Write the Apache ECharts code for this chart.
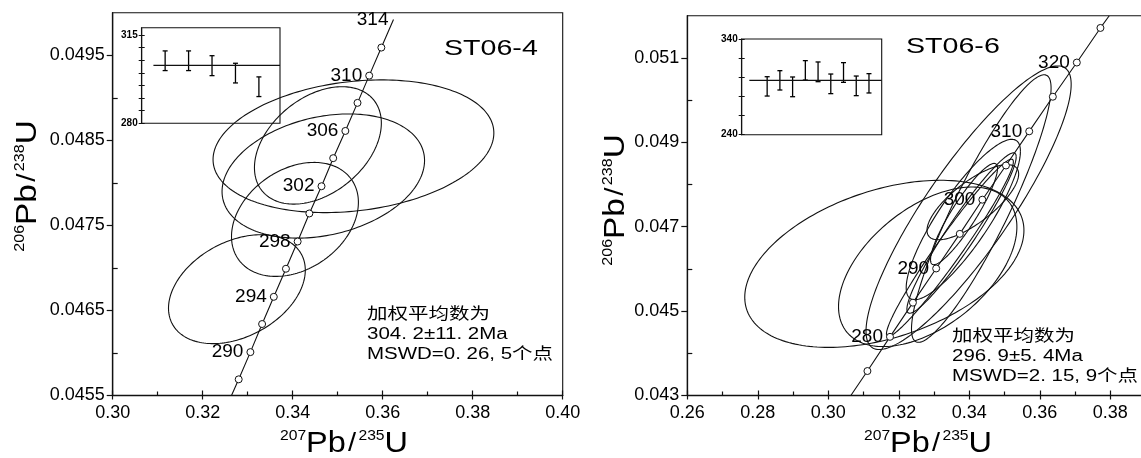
<!DOCTYPE html>
<html>
<head>
<meta charset="utf-8">
<script src="https://cdn.jsdelivr.net/npm/echarts@6/dist/echarts.min.js"></script>
<style>html,body{margin:0;padding:0;background:#fff;}#c{width:1141px;height:458px;}</style>
</head>
<body>
<div id="c"></div>
<script>
// ---------- DATA ----------
// Left panel ST06-4
const leftXTicks = [0.30, 0.32, 0.34, 0.36, 0.38, 0.40];
const leftXMinor = [0.31, 0.33, 0.35, 0.37, 0.39];
const leftYTicks = [0.0455, 0.0465, 0.0475, 0.0485, 0.0495];
const leftYMinor = [0.046, 0.047, 0.048, 0.049];
// concordia markers (age, 207Pb/235U, 206Pb/238U)
const leftAges = [288, 290, 292, 294, 296, 298, 300, 302, 304, 306, 308, 310, 312];
const leftMX = [0.3280, 0.3306, 0.3332, 0.3358, 0.3385, 0.3411, 0.3437, 0.3464, 0.3490, 0.3517, 0.3544, 0.3570, 0.3597];
const leftMY = [0.04569, 0.04601, 0.04634, 0.04666, 0.04699, 0.04731, 0.04764, 0.04796, 0.04829, 0.04861, 0.04894, 0.04926, 0.04959];
const leftCurveStart = [0.3264, 0.0455];
const leftCurveEnd = [0.3624, 0.04992];
const leftLabelAges = [290, 294, 298, 302, 306, 310];
const leftEndLabel = '314';
// error ellipses: [centre 207/235, centre 206/238, half width, half height, correlation]
const leftEllipses = [
  [0.3535, 0.04843, 0.0312, 0.00078, 0.20],
  [0.3468, 0.04808, 0.0225, 0.00073, 0.25],
  [0.3456, 0.04844, 0.0141, 0.00069, 0.38],
  [0.3405, 0.04757, 0.0141, 0.00067, 0.30],
  [0.3276, 0.04675, 0.0152, 0.00064, 0.35]
];
// inset weighted mean (ages, Ma)
const leftInsetLow  = [300.9, 300.9, 298.9, 296.0, 290.6];
const leftInsetHigh = [308.7, 308.7, 306.8, 303.8, 298.4];
const leftInsetMean = 303.0;
const leftInsetTicks = [280, 285, 290, 295, 300, 305, 310, 315];
const leftInsetLabels = [280, 315];

// Right panel ST06-6
const rightXTicks = [0.26, 0.28, 0.30, 0.32, 0.34, 0.36, 0.38, 0.40];
const rightXMinor = [0.27, 0.29, 0.31, 0.33, 0.35, 0.37, 0.39];
const rightYTicks = [0.043, 0.045, 0.047, 0.049, 0.051];
const rightYMinor = [0.044, 0.046, 0.048, 0.050];
const rightAges = [275, 280, 285, 290, 295, 300, 305, 310, 315, 320, 325];
const rightMX = [0.3111, 0.3175, 0.3240, 0.3306, 0.3373, 0.3437, 0.3504, 0.3570, 0.3637, 0.3705, 0.3772];
const rightMY = [0.04358, 0.04439, 0.04520, 0.04601, 0.04683, 0.04764, 0.04845, 0.04926, 0.05008, 0.05089, 0.05171];
const rightCurveStart = [0.3064, 0.0430];
const rightCurveEnd = [0.3797, 0.0520];
const rightLabelAges = [280, 290, 300, 310, 320];
const rightEllipses = [
  [0.3159, 0.04612, 0.0396, 0.00198, 0.40],
  [0.3282, 0.04605, 0.0253, 0.00189, 0.50],
  [0.3398, 0.04745, 0.0291, 0.00336, 0.87],
  [0.3434, 0.04743, 0.0198, 0.00317, 0.90],
  [0.3383, 0.04717, 0.0162, 0.00190, 0.85],
  [0.3410, 0.04758, 0.0130, 0.00089, 0.75],
  [0.3378, 0.04685, 0.0155, 0.00190, 0.95],
  [0.3385, 0.04730, 0.0095, 0.00120, 0.90],
  [0.3345, 0.04650, 0.0180, 0.00210, 0.97]
];
const rightInsetLow  = [280.4, 286.7, 279.7, 297.1, 295.4, 282.9, 294.7, 280.8, 283.6];
const rightInsetHigh = [300.6, 306.9, 300.3, 317.4, 316.0, 303.4, 315.3, 301.3, 303.8];
const rightInsetMean = 296.8;
const rightInsetTicks = [240, 260, 280, 300, 320, 340];
const rightInsetLabels = [240, 340];

// ---------- CHART ----------
const INK = '#000';
const FONT = '"Liberation Sans", Arial, "Noto Sans CJK SC", sans-serif';

function ellipseItem(params, api) {
  const cx = api.value(0), cy = api.value(1), a = api.value(2), b = api.value(3), r = api.value(4);
  const s = Math.sqrt(1 - r * r);
  const pts = [];
  for (let i = 0; i <= 200; i++) {
    const t = i / 200 * Math.PI * 2;
    pts.push(api.coord([cx + a * Math.cos(t), cy + b * (r * Math.cos(t) + s * Math.sin(t))]));
  }
  return { type: 'polyline', shape: { points: pts }, style: { stroke: '#111', lineWidth: 1.1, fill: null }, silent: true };
}
function errBarItem(params, api) {
  const p1 = api.coord([api.value(0), api.value(1)]);
  const p2 = api.coord([api.value(0), api.value(2)]);
  const w = 2.5;
  const st = { stroke: INK, lineWidth: 1.3 };
  return { type: 'group', children: [
    { type: 'line', shape: { x1: p1[0], y1: p1[1], x2: p2[0], y2: p2[1] }, style: st },
    { type: 'line', shape: { x1: p1[0] - w, y1: p1[1], x2: p1[0] + w, y2: p1[1] }, style: st },
    { type: 'line', shape: { x1: p2[0] - w, y1: p2[1], x2: p2[0] + w, y2: p2[1] }, style: st }
  ]};
}

const grids = [
  { left: 112.7, top: 12.7, width: 450, height: 382.8 },
  { left: 687.3, top: 15.7, width: 493.5, height: 379.8 },
  { left: 141.7, top: 27.7, width: 138.3, height: 95.6 },
  { left: 741.7, top: 39, width: 140, height: 95.7 }
].map(g => Object.assign({ show: true, borderColor: '#111', borderWidth: 1.1, backgroundColor: 'transparent', containLabel: false, outerBoundsMode: 'none' }, g));

function mainX(grid, min, max, ticks, minor) {
  const base = { type: 'value', gridIndex: grid, min: min, max: max, position: 'bottom', splitLine: { show: false } };
  return [
    Object.assign({}, base, {
      axisLine: { show: true, lineStyle: { color: '#111', width: 1.3 } },
      axisTick: { show: true, inside: true, length: 5, customValues: ticks, lineStyle: { color: '#111', width: 1.2 } },
      axisLabel: { show: true, customValues: ticks, formatter: v => v.toFixed(2), fontSize: 18, fontFamily: FONT, color: INK, margin: 9 }
    }),
    Object.assign({}, base, {
      axisLine: { show: false },
      axisTick: { show: true, inside: false, length: 4, customValues: ticks, lineStyle: { color: '#111', width: 1.2 } },
      axisLabel: { show: false }
    }),
    Object.assign({}, base, {
      axisLine: { show: false },
      axisTick: { show: true, inside: true, length: 4, customValues: minor, lineStyle: { color: '#111', width: 1.2 } },
      axisLabel: { show: false }
    })
  ];
}
function mainY(grid, min, max, ticks, minor, digits) {
  const base = { type: 'value', gridIndex: grid, min: min, max: max, position: 'left', splitLine: { show: false } };
  return [
    Object.assign({}, base, {
      axisLine: { show: true, lineStyle: { color: '#111', width: 1.3 } },
      axisTick: { show: true, inside: false, length: 6, customValues: ticks, lineStyle: { color: '#111', width: 1.2 } },
      axisLabel: { show: true, customValues: ticks, formatter: v => v.toFixed(digits), fontSize: 18, fontFamily: FONT, color: INK, margin: 8 }
    }),
    Object.assign({}, base, {
      axisLine: { show: false },
      axisTick: { show: true, inside: true, length: 5, customValues: minor, lineStyle: { color: '#111', width: 1.2 } },
      axisLabel: { show: false }
    })
  ];
}
function insetY(grid, min, max, ticks, labels) {
  const base = { type: 'value', gridIndex: grid, min: min, max: max, position: 'left', splitLine: { show: false } };
  return [
    Object.assign({}, base, {
      axisLine: { show: true, lineStyle: { color: '#111', width: 1.1 } },
      axisTick: { show: true, inside: false, length: 3, customValues: ticks, lineStyle: { color: '#111', width: 1 } },
      axisLabel: { show: true, customValues: labels, fontSize: 10, fontWeight: 'bold', fontFamily: FONT, color: INK, margin: 4 }
    }),
    Object.assign({}, base, {
      axisLine: { show: false },
      axisTick: { show: true, inside: true, length: 3, customValues: ticks, lineStyle: { color: '#111', width: 1 } },
      axisLabel: { show: false }
    })
  ];
}

const xAxis = [].concat(
  mainX(0, 0.30, 0.40, leftXTicks, leftXMinor),          // 0,1,2
  mainX(1, 0.26, 0.40, rightXTicks, rightXMinor),        // 3,4,5
  [{ type: 'value', gridIndex: 2, min: 0, max: 5.9, show: false },   // 6
   { type: 'value', gridIndex: 3, min: 0, max: 11, show: false }]    // 7
);
const yAxis = [].concat(
  mainY(0, 0.0455, 0.0500, leftYTicks, leftYMinor, 4),   // 0,1
  mainY(1, 0.043, 0.052, rightYTicks, rightYMinor, 3),   // 2,3
  insetY(2, 280, 317.9, leftInsetTicks, leftInsetLabels),   // 4,5
  insetY(3, 240, 340, rightInsetTicks, rightInsetLabels)    // 6,7
);

function curveData(start, xs, ys, end) {
  return [start].concat(xs.map((x, i) => [x, ys[i]])).concat([end]);
}
function markerData(ages, xs, ys, labelAges) {
  return ages.map((a, i) => ({
    value: [xs[i], ys[i]],
    label: { show: labelAges.indexOf(a) >= 0, formatter: String(a) }
  }));
}
const ageLabel = { position: 'left', distance: 3, fontSize: 19, fontFamily: FONT, color: '#000', textBorderWidth: 0, opacity: 1 };

const series = [
  { type: 'custom', xAxisIndex: 0, yAxisIndex: 0, renderItem: ellipseItem, data: leftEllipses, encode: { x: 0, y: 1 }, clip: true, z: 2 },
  { type: 'line', xAxisIndex: 0, yAxisIndex: 0, data: curveData(leftCurveStart, leftMX, leftMY, leftCurveEnd), symbol: 'none', lineStyle: { color: '#111', width: 1.1 }, z: 3, silent: true },
  { type: 'scatter', xAxisIndex: 0, yAxisIndex: 0, data: markerData(leftAges, leftMX, leftMY, leftLabelAges), symbol: 'circle', symbolSize: 7,
    itemStyle: { color: '#fff', borderColor: '#111', borderWidth: 1, opacity: 1 }, label: ageLabel, z: 4, silent: true },
  { type: 'scatter', xAxisIndex: 0, yAxisIndex: 0, data: [{ value: leftCurveEnd, label: { show: true, formatter: leftEndLabel } }], symbolSize: 0,
    label: Object.assign({}, ageLabel, { distance: 5 }), z: 4, silent: true },

  { type: 'custom', xAxisIndex: 3, yAxisIndex: 2, renderItem: ellipseItem, data: rightEllipses, encode: { x: 0, y: 1 }, clip: true, z: 2 },
  { type: 'line', xAxisIndex: 3, yAxisIndex: 2, data: curveData(rightCurveStart, rightMX, rightMY, rightCurveEnd), symbol: 'none', lineStyle: { color: '#111', width: 1.1 }, z: 3, silent: true },
  { type: 'scatter', xAxisIndex: 3, yAxisIndex: 2, data: markerData(rightAges, rightMX, rightMY, rightLabelAges), symbol: 'circle', symbolSize: 7,
    itemStyle: { color: '#fff', borderColor: '#111', borderWidth: 1, opacity: 1 }, label: ageLabel, z: 4, silent: true },

  { type: 'custom', xAxisIndex: 6, yAxisIndex: 4, renderItem: errBarItem, data: leftInsetLow.map((v, i) => [i + 1, v, leftInsetHigh[i]]), encode: { x: 0, y: [1, 2] }, z: 5 },
  { type: 'line', xAxisIndex: 6, yAxisIndex: 4, data: [[0.5, leftInsetMean], [5.9, leftInsetMean]], symbol: 'none', lineStyle: { color: '#111', width: 1.2 }, z: 5, silent: true },
  { type: 'custom', xAxisIndex: 7, yAxisIndex: 6, renderItem: errBarItem, data: rightInsetLow.map((v, i) => [i + 2, v, rightInsetHigh[i]]), encode: { x: 0, y: [1, 2] }, z: 5 },
  { type: 'line', xAxisIndex: 7, yAxisIndex: 6, data: [[0.6, rightInsetMean], [11, rightInsetMean]], symbol: 'none', lineStyle: { color: '#111', width: 1.2 }, z: 5, silent: true }
];

const richT = {
  sup: { fontSize: 14, lineHeight: 14, verticalAlign: 'top', fontFamily: FONT, fill: INK, color: INK },
  big: { fontSize: 29, lineHeight: 30, fontFamily: FONT, fill: INK, color: INK },
  sl: { fontSize: 26, lineHeight: 30, fontFamily: FONT, fill: INK, color: INK, padding: [0, 2, 0, 2] }
};
function titleText(str, x, y, rot, sx) {
  return { type: 'text', x: x, y: y, rotation: rot, scaleX: sx, z: 10,
    style: { text: str, align: 'center', verticalAlign: 'middle', rich: richT, fill: INK } };
}
function plainText(str, x, y, size, sx, lh) {
  return { type: 'text', x: x, y: y, scaleX: sx, z: 10,
    style: { text: str, align: 'left', verticalAlign: 'top', font: size + 'px ' + FONT, fill: INK, lineHeight: lh } };
}
const xTitle = '{sup|207}{big|Pb}{sl|/}{sup|235}{big|U}';
const yTitle = '{sup|206}{big|Pb}{sl|/}{sup|238}{big|U}';

const graphic = [
  titleText(xTitle, 344, 444, 0, 1.12),
  titleText(xTitle, 928, 444, 0, 1.12),
  titleText(yTitle, 28, 186, Math.PI / 2, 1.15),
  titleText(yTitle, 616, 200, Math.PI / 2, 1.15),
  plainText('ST06-4', 444, 37, 22, 1.3, 24),
  plainText('ST06-6', 906, 35, 22, 1.3, 24),
  plainText('加权平均数为\n304. 2±11. 2Ma\nMSWD=0. 26, 5个点', 367, 305, 16, 1.28, 19.8),
  plainText('加权平均数为\n296. 9±5. 4Ma\nMSWD=2. 15, 9个点', 952, 327, 16, 1.28, 19.8)
];

const chart = echarts.init(document.getElementById('c'), null, { renderer: 'canvas' });
chart.setOption({
  animation: false,
  backgroundColor: '#fff',
  grid: grids,
  xAxis: xAxis,
  yAxis: yAxis,
  series: series,
  graphic: graphic
});
</script>
</body>
</html>
